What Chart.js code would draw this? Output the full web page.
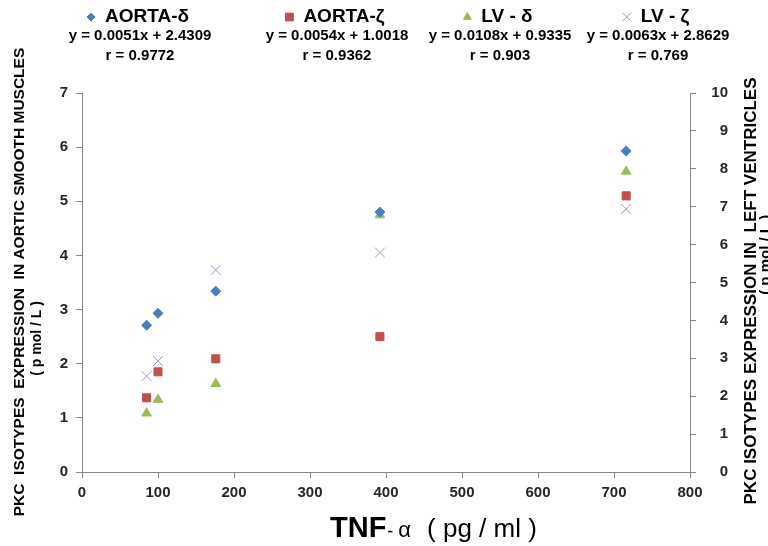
<!DOCTYPE html>
<html>
<head>
<meta charset="utf-8">
<script src="https://cdn.jsdelivr.net/npm/chart.js@4/dist/chart.umd.min.js"></script>
<style>
  html, body { margin: 0; padding: 0; background: #fff; }
  #wrap { width: 768px; height: 546px; position: relative; }
</style>
</head>
<body>
<div id="wrap"><canvas id="grafico"></canvas></div>
<script>
// TNF-alpha (pg/ml) on x
const tnf = [85, 100, 176, 392, 716];
// left axis: aortic smooth muscles
const aortaDelta = [2.71, 2.93, 3.34, 4.8, 5.93];
const aortaZeta = [1.37, 1.85, 2.09, 2.5, 5.1];
// right axis: left ventricles
const lvDelta = [1.55, 1.91, 2.33, 6.78, 7.93];
const lvZeta = [2.53, 2.93, 5.33, 5.79, 6.94];

const nombres = ['AORTA-δ', 'AORTA-ζ', 'LV - δ', 'LV - ζ'];
const ecuaciones = ['y = 0.0051x + 2.4309', 'y = 0.0054x + 1.0018', 'y = 0.0108x + 0.9335', 'y = 0.0063x + 2.8629'];
const erres = ['r = 0.9772', 'r = 0.9362', 'r = 0.903', 'r = 0.769'];

const tituloY = ['PKC  ISOTYPES  EXPRESSION  IN AORTIC SMOOTH MUSCLES', '( p mol / L )'];
const tituloY2 = ['PKC ISOTYPES EXPRESSION IN  LEFT VENTRICLES', '( p mol / L )'];

const FONT = "'Liberation Sans', Arial, sans-serif";
const GRIS = '#868686';

function puntos(ys) {
    return tnf.map((x, i) => ({ x: x, y: ys[i] }));
}

const leyendaX = [140, 337, 500, 658];
const radioLeyenda = { rectRot: 4, rect: 5.5, triangle: 4.5, crossRot: 6 };

const extras = {
    id: 'extras',
    afterDraw(chart) {
        const ctx = chart.ctx;
        ctx.save();
        ctx.textBaseline = 'middle';
        // legend with equations
        chart.data.datasets.forEach((ds, i) => {
            const cx = leyendaX[i];
            ctx.font = 'bold 19px ' + FONT;
            const w = ctx.measureText(nombres[i]).width;
            const start = cx - (w + 14) / 2;
            ctx.fillStyle = ds.backgroundColor;
            ctx.strokeStyle = ds.borderColor;
            ctx.lineWidth = 1;
            Chart.helpers.drawPoint(ctx, {
                pointStyle: ds.pointStyle, radius: radioLeyenda[ds.pointStyle], borderWidth: 1
            }, start, 17);
            ctx.fillStyle = '#000';
            ctx.textAlign = 'left';
            ctx.fillText(nombres[i], start + 14, 17);
            ctx.textAlign = 'center';
            ctx.font = 'bold 15px ' + FONT;
            ctx.fillText(ecuaciones[i], cx, 36);
            ctx.fillText(erres[i], cx, 56);
        });

        ctx.fillStyle = '#000';
        ctx.textAlign = 'center';
        // left title
        ctx.save();
        ctx.font = 'bold 15.5px ' + FONT;
        let total = ctx.measureText(tituloY[0]).width;
        let off = -total / 2 + ctx.measureText('PKC  ISOTYPES  ').width + ctx.measureText('EXPRESSION').width / 2;
        ctx.translate(20, 282);
        ctx.rotate(-Math.PI / 2);
        ctx.fillText(tituloY[0], 0, 0);
        ctx.font = 'bold 14px ' + FONT;
        ctx.fillText(tituloY[1], off, 17);
        ctx.restore();

        // right title
        ctx.save();
        ctx.font = 'bold 17px ' + FONT;
        total = ctx.measureText(tituloY2[0]).width;
        off = -total / 2 + ctx.measureText('PKC ISOTYPES EXPRESSION ').width + 4;
        ctx.translate(751, 291);
        ctx.rotate(-Math.PI / 2);
        ctx.fillText(tituloY2[0], 0, 0);
        ctx.font = 'bold 15px ' + FONT;
        ctx.fillText(tituloY2[1], off, 15);
        ctx.restore();

        // x title
        ctx.textAlign = 'left';
        ctx.textBaseline = 'alphabetic';
        let x = 330;
        const base = 537;
        ctx.font = "bold 29px 'Liberation Sans Narrow', " + FONT;
        ctx.fillText('TNF', x, base);
        x += ctx.measureText('TNF').width + 1;
        ctx.font = '18px ' + FONT;
        ctx.fillText('-', x, base);
        x += ctx.measureText('- ').width;
        ctx.font = '22px ' + FONT;
        ctx.fillText('α', x, base);
        x += ctx.measureText('α').width + 16;
        ctx.font = "26px 'Liberation Sans Narrow', " + FONT;
        ctx.fillText('( pg / ml )', x, base);
        ctx.restore();
    }
};

const ctx = document.getElementById('grafico').getContext('2d');
new Chart(ctx, {
    type: 'scatter',
    data: {
        datasets: [{
            label: nombres[0],
            data: puntos(aortaDelta),
            yAxisID: 'y',
            pointStyle: 'rectRot',
            pointRadius: 5,
            backgroundColor: '#4A7EBB',
            borderColor: '#4A7EBB'
        }, {
            label: nombres[1],
            data: puntos(aortaZeta),
            yAxisID: 'y',
            pointStyle: 'rect',
            pointRadius: 5.7,
            backgroundColor: '#C0504D',
            borderColor: '#C0504D'
        }, {
            label: nombres[2],
            data: puntos(lvDelta),
            yAxisID: 'y2',
            pointStyle: 'triangle',
            pointRadius: 5.5,
            backgroundColor: '#9BBB59',
            borderColor: '#9BBB59'
        }, {
            label: nombres[3],
            data: puntos(lvZeta),
            yAxisID: 'y2',
            pointStyle: 'crossRot',
            pointRadius: 7,
            borderWidth: 1,
            backgroundColor: '#A393C9',
            borderColor: '#A393C9'
        }]
    },
    options: {
        responsive: true,
        maintainAspectRatio: false,
        animation: false,
        layout: { padding: { top: 93, left: 0, right: 40, bottom: 0 } },
        plugins: {
            legend: { display: false },
            tooltip: { enabled: false }
        },
        scales: {
            x: {
                type: 'linear',
                min: 0,
                max: 800,
                ticks: { stepSize: 100, color: '#262626', padding: 6, font: { family: FONT, size: 15, weight: 'bold' } },
                grid: { drawOnChartArea: false, tickLength: 6, color: GRIS },
                border: { color: GRIS },
                afterFit: s => { s.height = 74; }
            },
            y: {
                position: 'left',
                min: 0,
                max: 7,
                ticks: { stepSize: 1, color: '#262626', padding: 8, font: { family: FONT, size: 15, weight: 'bold' } },
                grid: { drawOnChartArea: false, tickLength: 6, color: GRIS },
                border: { color: GRIS },
                afterFit: s => { s.width = 82; }
            },
            y2: {
                position: 'right',
                min: 0,
                max: 10,
                ticks: { stepSize: 1, color: '#262626', padding: 7, crossAlign: 'far', font: { family: FONT, size: 15, weight: 'bold' } },
                grid: { drawOnChartArea: false, tickLength: 6, color: GRIS },
                border: { color: GRIS },
                afterFit: s => { s.width = 38; }
            }
        }
    },
    plugins: [extras]
});
</script>
</body>
</html>
